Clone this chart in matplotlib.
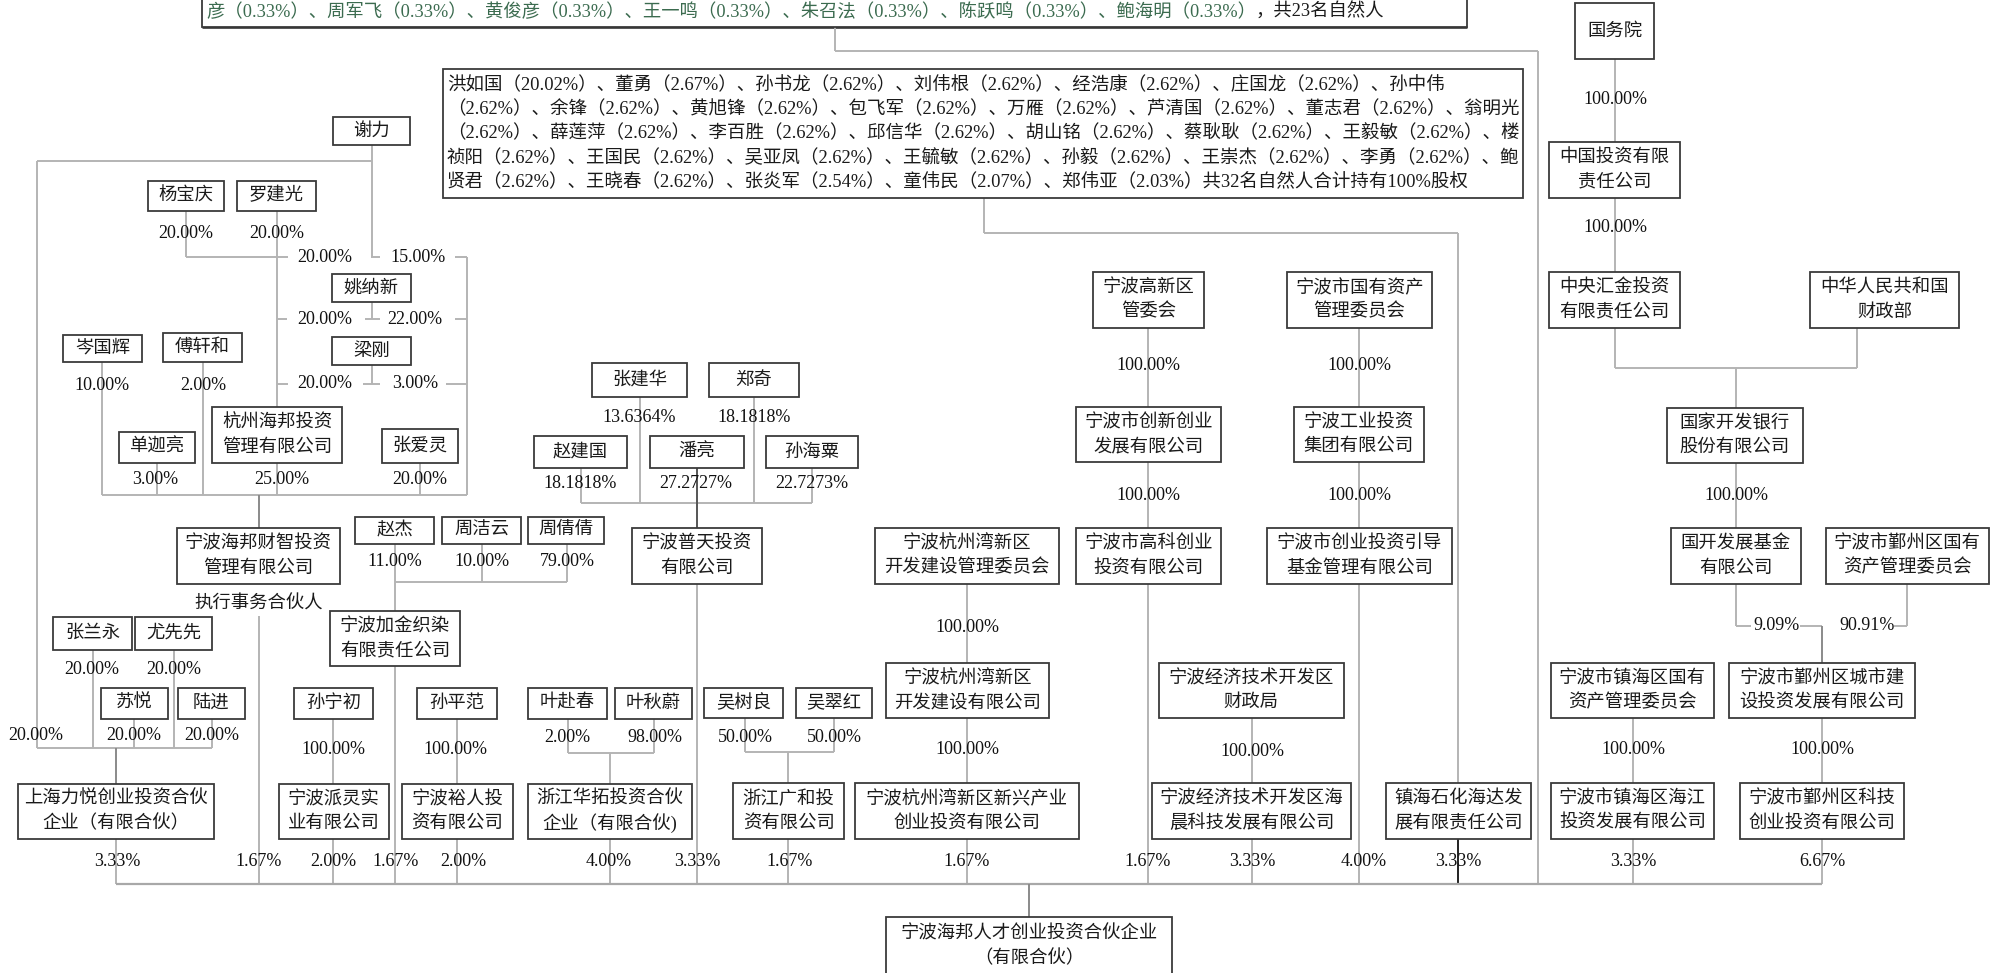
import matplotlib
matplotlib.use("Agg")
import matplotlib.pyplot as plt
from matplotlib.patches import Rectangle

# ================= DATA =================
HOLDERS_23_SHOWN = [("彦", "0.33%"), ("周军飞", "0.33%"), ("黄俊彦", "0.33%"), ("王一鸣", "0.33%"),
                    ("朱召法", "0.33%"), ("陈跃鸣", "0.33%"), ("鲍海明", "0.33%")]
HOLDERS_23_NOTE = "，共23名自然人"

HOLDERS_32 = [("洪如国", "20.02%"), ("董勇", "2.67%"), ("孙书龙", "2.62%"), ("刘伟根", "2.62%"),
              ("经浩康", "2.62%"), ("庄国龙", "2.62%"), ("孙中伟", "2.62%"), ("余锋", "2.62%"),
              ("黄旭锋", "2.62%"), ("包飞军", "2.62%"), ("万雁", "2.62%"), ("芦清国", "2.62%"),
              ("董志君", "2.62%"), ("翁明光", "2.62%"), ("薛莲萍", "2.62%"), ("李百胜", "2.62%"),
              ("邱信华", "2.62%"), ("胡山铭", "2.62%"), ("蔡耿耿", "2.62%"), ("王毅敏", "2.62%"),
              ("楼祯阳", "2.62%"), ("王国民", "2.62%"), ("吴亚凤", "2.62%"), ("王毓敏", "2.62%"),
              ("孙毅", "2.62%"), ("王崇杰", "2.62%"), ("李勇", "2.62%"), ("鲍贤君", "2.62%"),
              ("王晓春", "2.62%"), ("张炎军", "2.54%"), ("童伟民", "2.07%"), ("郑伟亚", "2.03%")]
HOLDERS_32_NOTE = "共32名自然人合计持有100%股权"
HOLDERS_32_BREAKS = ["孙中伟", "翁明光", "楼", "鲍"]   # text wraps right after these

LABELS = {
    "谢力": "谢力", "杨宝庆": "杨宝庆", "罗建光": "罗建光", "姚纳新": "姚纳新", "梁刚": "梁刚",
    "岑国辉": "岑国辉", "傅轩和": "傅轩和", "单迦亮": "单迦亮", "张爱灵": "张爱灵",
    "杭州海邦": "杭州海邦投资\n管理有限公司",
    "海邦财智": "宁波海邦财智投资\n管理有限公司",
    "张兰永": "张兰永", "尤先先": "尤先先", "苏悦": "苏悦", "陆进": "陆进",
    "上海力悦": "上海力悦创业投资合伙\n企业（有限合伙）",
    "赵杰": "赵杰", "周洁云": "周洁云", "周倩倩": "周倩倩",
    "加金织染": "宁波加金织染\n有限责任公司",
    "孙宁初": "孙宁初", "派灵实业": "宁波派灵实\n业有限公司",
    "孙平范": "孙平范", "裕人投资": "宁波裕人投\n资有限公司",
    "叶赴春": "叶赴春", "叶秋蔚": "叶秋蔚", "浙江华拓": "浙江华拓投资合伙\n企业（有限合伙)",
    "张建华": "张建华", "郑奇": "郑奇", "赵建国": "赵建国", "潘亮": "潘亮", "孙海粟": "孙海粟",
    "普天投资": "宁波普天投资\n有限公司",
    "吴树良": "吴树良", "吴翠红": "吴翠红", "浙江广和": "浙江广和投\n资有限公司",
    "杭州湾管委会": "宁波杭州湾新区\n开发建设管理委员会",
    "杭州湾开发建设": "宁波杭州湾新区\n开发建设有限公司",
    "杭州湾新兴产业": "宁波杭州湾新区新兴产业\n创业投资有限公司",
    "高新区管委会": "宁波高新区\n管委会",
    "创新创业": "宁波市创新创业\n发展有限公司",
    "高科创业": "宁波市高科创业\n投资有限公司",
    "宁波市国资委": "宁波市国有资产\n管理委员会",
    "工业投资": "宁波工业投资\n集团有限公司",
    "引导基金": "宁波市创业投资引导\n基金管理有限公司",
    "经开区财政局": "宁波经济技术开发区\n财政局",
    "海晨科技": "宁波经济技术开发区海\n晨科技发展有限公司",
    "镇海石化": "镇海石化海达发\n展有限责任公司",
    "镇海区国资委": "宁波市镇海区国有\n资产管理委员会",
    "海江投资": "宁波市镇海区海江\n投资发展有限公司",
    "国务院": "国务院",
    "中国投资": "中国投资有限\n责任公司",
    "中央汇金": "中央汇金投资\n有限责任公司",
    "财政部": "中华人民共和国\n财政部",
    "国开行": "国家开发银行\n股份有限公司",
    "国开基金": "国开发展基金\n有限公司",
    "鄞州区国资委": "宁波市鄞州区国有\n资产管理委员会",
    "城市建设": "宁波市鄞州区城市建\n设投资发展有限公司",
    "鄞州科技": "宁波市鄞州区科技\n创业投资有限公司",
    "海邦人才": "宁波海邦人才创业投资合伙企业\n（有限合伙）",
}

STAKES = {
    ("杨宝庆", "杭州海邦"): "20.00%", ("罗建光", "杭州海邦"): "20.00%",
    ("谢力", "杭州海邦"): "20.00%", ("姚纳新", "杭州海邦"): "20.00%", ("梁刚", "杭州海邦"): "20.00%",
    ("谢力", "海邦财智"): "15.00%", ("姚纳新", "海邦财智"): "22.00%", ("梁刚", "海邦财智"): "3.00%",
    ("岑国辉", "海邦财智"): "10.00%", ("傅轩和", "海邦财智"): "2.00%", ("单迦亮", "海邦财智"): "3.00%",
    ("杭州海邦", "海邦财智"): "25.00%", ("张爱灵", "海邦财智"): "20.00%",
    ("谢力", "上海力悦"): "20.00%", ("张兰永", "上海力悦"): "20.00%", ("尤先先", "上海力悦"): "20.00%",
    ("苏悦", "上海力悦"): "20.00%", ("陆进", "上海力悦"): "20.00%",
    ("赵杰", "加金织染"): "11.00%", ("周洁云", "加金织染"): "10.00%", ("周倩倩", "加金织染"): "79.00%",
    ("孙宁初", "派灵实业"): "100.00%", ("孙平范", "裕人投资"): "100.00%",
    ("叶赴春", "浙江华拓"): "2.00%", ("叶秋蔚", "浙江华拓"): "98.00%",
    ("张建华", "普天投资"): "13.6364%", ("郑奇", "普天投资"): "18.1818%",
    ("赵建国", "普天投资"): "18.1818%", ("潘亮", "普天投资"): "27.2727%", ("孙海粟", "普天投资"): "22.7273%",
    ("吴树良", "浙江广和"): "50.00%", ("吴翠红", "浙江广和"): "50.00%",
    ("杭州湾管委会", "杭州湾开发建设"): "100.00%", ("杭州湾开发建设", "杭州湾新兴产业"): "100.00%",
    ("高新区管委会", "创新创业"): "100.00%", ("创新创业", "高科创业"): "100.00%",
    ("宁波市国资委", "工业投资"): "100.00%", ("工业投资", "引导基金"): "100.00%",
    ("经开区财政局", "海晨科技"): "100.00%", ("镇海区国资委", "海江投资"): "100.00%",
    ("国务院", "中国投资"): "100.00%", ("中国投资", "中央汇金"): "100.00%",
    ("国开行", "国开基金"): "100.00%",
    ("国开基金", "城市建设"): "9.09%", ("鄞州区国资委", "城市建设"): "90.91%",
    ("城市建设", "鄞州科技"): "100.00%",
}

FUND_STAKES = {
    "上海力悦": "3.33%", "海邦财智": "1.67%", "派灵实业": "2.00%", "加金织染": "1.67%",
    "裕人投资": "2.00%", "浙江华拓": "4.00%", "普天投资": "3.33%", "浙江广和": "1.67%",
    "杭州湾新兴产业": "1.67%", "高科创业": "1.67%", "海晨科技": "3.33%", "引导基金": "4.00%",
    "镇海石化": "3.33%", "海江投资": "3.33%", "鄞州科技": "6.67%",
}
PARTNER_NOTE = "执行事务合伙人"

# ================= LAYOUT (pixel coords, y down) =================
BOXES = {
    "谢力": (333, 117, 410, 145), "杨宝庆": (148, 181, 224, 211), "罗建光": (237, 181, 316, 211),
    "姚纳新": (332, 274, 411, 302), "梁刚": (332, 337, 411, 365),
    "岑国辉": (63, 335, 142, 362), "傅轩和": (163, 333, 242, 362),
    "杭州海邦": (212, 407, 342, 463), "单迦亮": (119, 432, 195, 463), "张爱灵": (382, 429, 458, 463),
    "海邦财智": (177, 528, 340, 584),
    "张兰永": (53, 617, 132, 650), "尤先先": (135, 617, 212, 650),
    "苏悦": (101, 688, 168, 719), "陆进": (178, 688, 245, 719),
    "上海力悦": (18, 784, 214, 839),
    "赵杰": (355, 517, 434, 544), "周洁云": (442, 517, 521, 544), "周倩倩": (528, 517, 604, 544),
    "加金织染": (330, 611, 460, 666),
    "孙宁初": (294, 688, 373, 719), "派灵实业": (279, 784, 389, 839),
    "孙平范": (417, 688, 497, 719), "裕人投资": (402, 784, 513, 839),
    "叶赴春": (528, 688, 607, 719), "叶秋蔚": (615, 688, 692, 719), "浙江华拓": (528, 784, 692, 839),
    "张建华": (592, 363, 687, 397), "郑奇": (709, 363, 799, 397),
    "赵建国": (534, 436, 627, 468), "潘亮": (650, 436, 744, 468), "孙海粟": (766, 436, 858, 468),
    "普天投资": (632, 528, 762, 584),
    "吴树良": (704, 688, 783, 718), "吴翠红": (796, 688, 872, 718), "浙江广和": (733, 783, 844, 839),
    "杭州湾管委会": (875, 528, 1059, 584), "杭州湾开发建设": (886, 663, 1049, 718),
    "杭州湾新兴产业": (855, 783, 1079, 839),
    "高新区管委会": (1093, 272, 1204, 328), "创新创业": (1076, 407, 1221, 462),
    "高科创业": (1076, 528, 1221, 584),
    "宁波市国资委": (1287, 272, 1432, 328), "工业投资": (1294, 407, 1424, 462),
    "引导基金": (1267, 528, 1452, 584),
    "经开区财政局": (1159, 663, 1344, 718), "海晨科技": (1152, 783, 1351, 839),
    "镇海石化": (1386, 783, 1531, 839),
    "镇海区国资委": (1551, 663, 1714, 718), "海江投资": (1551, 783, 1714, 839),
    "国务院": (1575, 3, 1654, 59), "中国投资": (1549, 142, 1680, 198),
    "中央汇金": (1549, 272, 1680, 328), "财政部": (1810, 272, 1959, 328),
    "国开行": (1667, 408, 1803, 463), "国开基金": (1671, 528, 1801, 584),
    "鄞州区国资委": (1826, 528, 1989, 584),
    "城市建设": (1729, 663, 1915, 718), "鄞州科技": (1740, 783, 1904, 839),
    "海邦人才": (886, 917, 1172, 990),
}

# where each percentage label sits
STAKE_AT = {
    ("杨宝庆", "杭州海邦"): (186, 233), ("罗建光", "杭州海邦"): (277, 233),
    ("谢力", "杭州海邦"): (325, 257), ("谢力", "海邦财智"): (418, 257),
    ("姚纳新", "杭州海邦"): (325, 319), ("姚纳新", "海邦财智"): (415, 319),
    ("梁刚", "杭州海邦"): (325, 384), ("梁刚", "海邦财智"): (415, 384),
    ("岑国辉", "海邦财智"): (102, 385), ("傅轩和", "海邦财智"): (203, 385),
    ("杭州海邦", "海邦财智"): (282, 480), ("单迦亮", "海邦财智"): (155, 480),
    ("张爱灵", "海邦财智"): (420, 480),
    ("谢力", "上海力悦"): (36, 735), ("张兰永", "上海力悦"): (92, 670), ("尤先先", "上海力悦"): (174, 670),
    ("苏悦", "上海力悦"): (134, 735), ("陆进", "上海力悦"): (212, 735),
    ("赵杰", "加金织染"): (395, 562), ("周洁云", "加金织染"): (482, 562), ("周倩倩", "加金织染"): (567, 562),
    ("孙宁初", "派灵实业"): (333, 750), ("孙平范", "裕人投资"): (455, 750),
    ("叶赴春", "浙江华拓"): (567, 737), ("叶秋蔚", "浙江华拓"): (655, 737),
    ("张建华", "普天投资"): (639, 418), ("郑奇", "普天投资"): (754, 418),
    ("赵建国", "普天投资"): (580, 483), ("潘亮", "普天投资"): (696, 483), ("孙海粟", "普天投资"): (812, 483),
    ("吴树良", "浙江广和"): (745, 737), ("吴翠红", "浙江广和"): (834, 737),
    ("杭州湾管委会", "杭州湾开发建设"): (967, 627), ("杭州湾开发建设", "杭州湾新兴产业"): (967, 750),
    ("高新区管委会", "创新创业"): (1148, 366), ("创新创业", "高科创业"): (1148, 496),
    ("宁波市国资委", "工业投资"): (1359, 366), ("工业投资", "引导基金"): (1359, 496),
    ("经开区财政局", "海晨科技"): (1252, 752), ("镇海区国资委", "海江投资"): (1633, 750),
    ("国务院", "中国投资"): (1615, 100), ("中国投资", "中央汇金"): (1615, 228),
    ("国开行", "国开基金"): (1736, 496),
    ("国开基金", "城市建设"): (1776, 626), ("鄞州区国资委", "城市建设"): (1867, 626),
    ("城市建设", "鄞州科技"): (1822, 750),
}
FUND_AT = {
    "上海力悦": 117, "海邦财智": 259, "派灵实业": 333, "加金织染": 396, "裕人投资": 463,
    "浙江华拓": 609, "普天投资": 697, "浙江广和": 790, "杭州湾新兴产业": 967, "高科创业": 1148,
    "海晨科技": 1252, "引导基金": 1364, "镇海石化": 1458, "海江投资": 1633, "鄞州科技": 1822,
}
FUND_Y = 862

FONT = ["Liberation Serif", "Noto Sans CJK SC"]
plt.rcParams["font.family"] = FONT

LINE = "#b4b4b4"
DARK = "#555555"
EDGE = "#3a3a3a"
BOX_FS = 13.2
PCT_FS = 13
LINE_H = 24

fig = plt.figure(figsize=(20, 9.73), dpi=100)
ax = fig.add_axes([0, 0, 1, 1])
ax.set_xlim(0, 2000)
ax.set_ylim(973, 0)
ax.axis("off")


def seg(x1, y1, x2, y2, c=LINE, lw=1.4):
    ax.plot([x1, x2], [y1, y2], color=c, lw=lw, solid_capstyle="butt", zorder=1)


def draw_box(key):
    x0, y0, x1, y1 = BOXES[key]
    ax.add_patch(Rectangle((x0, y0), x1 - x0, y1 - y0, facecolor="white",
                           edgecolor=EDGE, lw=1.3, zorder=2))
    lines = LABELS[key].split("\n")
    cy = (y0 + min(y1, 973)) / 2 if key != "海邦人才" else 946
    n = len(lines)
    for i, s in enumerate(lines):
        ax.text((x0 + x1) / 2, cy + (i - (n - 1) / 2) * LINE_H, s, ha="center", va="center",
                fontsize=BOX_FS, color="#1a1a1a", zorder=3)


def pct(x, y, s):
    ax.text(x, y, s, ha="center", va="center", fontsize=PCT_FS, color="#111111", zorder=3)


# ---- top box (23 natural persons) ----
ax.add_patch(Rectangle((202, -10), 1265, 37, facecolor="white", edgecolor=EDGE, lw=1.3, zorder=2))
seg(202, 27, 1467, 27, c="#222222", lw=1.8)
green_txt = "、".join(f"{n}（{p}）" for n, p in HOLDERS_23_SHOWN)
t = ax.text(206, 12, green_txt, ha="left", va="center", fontsize=BOX_FS, color="#3b6b4f", zorder=3)
fig.canvas.draw()
w = t.get_window_extent(renderer=fig.canvas.get_renderer()).width
ax.text(206 + w, 12, HOLDERS_23_NOTE, ha="left", va="center", fontsize=BOX_FS, color="#1a1a1a", zorder=3)
seg(835, 27, 835, 51)
seg(835, 51, 1538, 51)
seg(1538, 51, 1538, 884)

# ---- 32 natural persons box ----
full = "、".join(f"{n}（{p}）" for n, p in HOLDERS_32) + HOLDERS_32_NOTE
rows = []
rest = full
for mk in HOLDERS_32_BREAKS:
    k = rest.index(mk) + len(mk)
    rows.append(rest[:k])
    rest = rest[k:]
rows.append(rest)
ax.add_patch(Rectangle((443, 69), 1080, 129, facecolor="white", edgecolor=EDGE, lw=1.3, zorder=2))
for i, s in enumerate(rows):
    ax.text(447, 85 + i * 24.3, s, ha="left", va="center", fontsize=13.3, color="#1a1a1a", zorder=3)
seg(984, 198, 984, 233)
seg(984, 233, 1458, 233)
seg(1458, 233, 1458, 783)

# ---- connectors ----
# 谢力 / 姚纳新 / 梁刚 split holdings
seg(372, 145, 372, 257)
seg(37, 161, 372, 161)
seg(37, 161, 37, 748)
seg(186, 211, 186, 257)
seg(186, 257, 288, 257)
seg(277, 211, 277, 407)
seg(371, 257, 380, 257)
seg(455, 257, 467, 257)
seg(467, 257, 467, 495)
seg(372, 302, 372, 319)
seg(277, 319, 287, 319)
seg(365, 319, 380, 319)
seg(455, 319, 467, 319)
seg(372, 365, 372, 384)
seg(277, 384, 288, 384)
seg(363, 384, 380, 384)
seg(446, 384, 467, 384)
seg(102, 362, 102, 495)
seg(203, 362, 203, 495)
seg(277, 463, 277, 495)
seg(157, 463, 157, 495)
seg(420, 463, 420, 495)
seg(102, 495, 467, 495)
seg(259, 495, 259, 528, c="#8a8a8a")
seg(259, 616, 259, 884)
ax.text(259, 604, PARTNER_NOTE, ha="center", va="center", fontsize=BOX_FS, color="#1a1a1a", zorder=3)

# 上海力悦
for x, top in [(93, 650), (174, 650), (134, 719), (212, 719)]:
    seg(x, top, x, 748)
seg(37, 748, 212, 748)
seg(116, 748, 116, 784, c="#8a8a8a")
seg(116, 839, 116, 884)

# 加金织染
seg(395, 544, 395, 611)
seg(482, 544, 482, 582)
seg(567, 544, 567, 582)
seg(395, 582, 567, 582)
seg(395, 666, 395, 884)

# 派灵 / 裕人
seg(333, 719, 333, 784)
seg(333, 839, 333, 884)
seg(457, 719, 457, 784)
seg(457, 839, 457, 884)

# 华拓
seg(568, 719, 568, 753)
seg(654, 719, 654, 753)
seg(568, 753, 654, 753)
seg(610, 753, 610, 784)
seg(610, 839, 610, 884)

# 普天
seg(640, 397, 640, 503)
seg(754, 397, 754, 503)
seg(581, 468, 581, 503)
seg(812, 468, 812, 503)
seg(581, 503, 812, 503)
seg(697, 468, 697, 528, c=DARK)
seg(697, 584, 697, 884)

# 广和
seg(745, 718, 745, 752)
seg(834, 718, 834, 752)
seg(745, 752, 834, 752)
seg(788, 752, 788, 783)
seg(788, 839, 788, 884)

# 杭州湾
seg(967, 584, 967, 663)
seg(967, 718, 967, 783)
seg(967, 839, 967, 884)

# 高新区 / 国资委 / 经开区
seg(1148, 328, 1148, 407)
seg(1148, 462, 1148, 528)
seg(1148, 584, 1148, 884)
seg(1359, 328, 1359, 407)
seg(1359, 462, 1359, 528)
seg(1359, 584, 1359, 884)
seg(1252, 718, 1252, 783)
seg(1252, 839, 1252, 884)
seg(1458, 839, 1458, 884, c="#222222")

# 镇海区
seg(1633, 718, 1633, 783)
seg(1633, 839, 1633, 884)

# 国务院 chain
seg(1615, 59, 1615, 142)
seg(1615, 198, 1615, 272)
seg(1615, 328, 1615, 368)
seg(1857, 328, 1857, 368)
seg(1615, 368, 1857, 368)
seg(1736, 368, 1736, 408)
seg(1736, 463, 1736, 528)
seg(1736, 584, 1736, 626)
seg(1736, 626, 1751, 626)
seg(1800, 626, 1822, 626)
seg(1822, 626, 1822, 663, c="#8a8a8a")
seg(1894, 626, 1907, 626)
seg(1907, 584, 1907, 626)
seg(1822, 718, 1822, 783)
seg(1822, 839, 1822, 884)

# fund bracket
seg(116, 884, 1822, 884, c="#a8a8a8", lw=1.6)
seg(1029, 884, 1029, 917, c="#8a8a8a")

# ---- boxes & labels ----
for key in BOXES:
    draw_box(key)

for k, s in STAKES.items():
    x, y = STAKE_AT[k]
    pct(x, y, s)

for k, s in FUND_STAKES.items():
    pct(FUND_AT[k], FUND_Y, s)

fig.savefig("out.png", dpi=100, facecolor="white")
